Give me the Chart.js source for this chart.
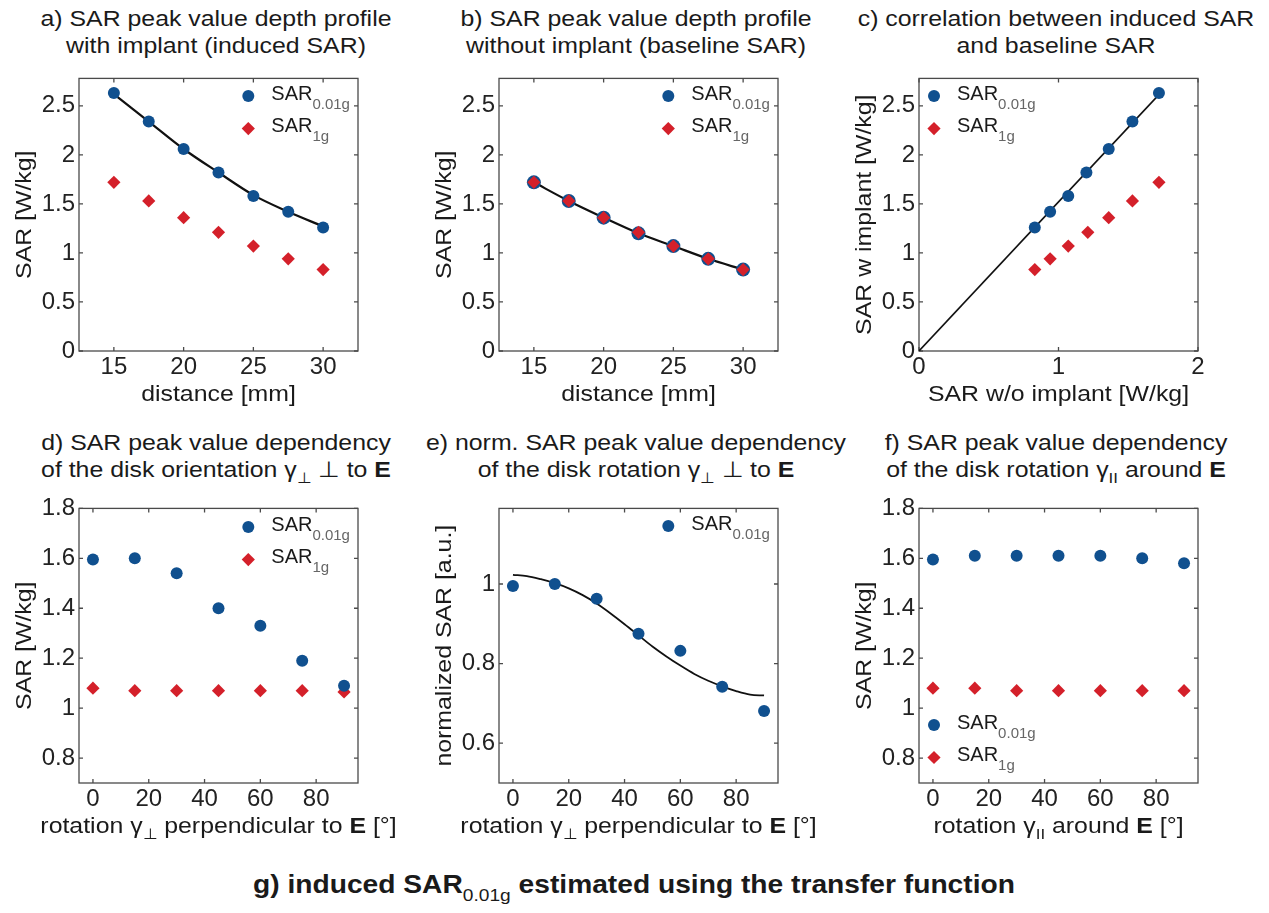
<!DOCTYPE html>
<html>
<head>
<meta charset="utf-8">
<script src="https://cdn.jsdelivr.net/npm/chart.js@4.4.1/dist/chart.umd.min.js"></script>
<style>
  body { margin: 0; background: #fff; width: 1269px; height: 913px; position: relative; overflow: hidden;
         font-family: "Liberation Sans", Arial, sans-serif; color: #1a1a1a; }
  canvas { position: absolute; }
  .title { position: absolute; width: 500px; text-align: center; font-size: 22px; line-height: 27px;
           white-space: nowrap; transform: scaleX(1.13); transform-origin: center; }
  .title .sub { font-size: 15px; position: relative; top: 6px; }
  #caption { position: absolute; left: 253px; top: 869px; font-weight: bold; font-size: 25px; line-height: 30px;
             white-space: nowrap; transform-origin: left center;
             font-family: "Liberation Sans Narrow", "Liberation Sans", Arial, sans-serif; }
  #caption .sub { font-size: 17px; position: relative; top: 8px; font-weight: normal; }
</style>
</head>
<body>

<div class="title" style="left:-34px;top:5px">a) SAR peak value depth profile<br>with implant (induced SAR)</div>
<div class="title" style="left:386px;top:5px">b) SAR peak value depth profile<br>without implant (baseline SAR)</div>
<div class="title" style="left:806px;top:5px">c) correlation between induced SAR<br>and baseline SAR</div>
<div class="title" style="left:-34px;top:429px">d) SAR peak value dependency<br>of the disk orientation &gamma;<span class="sub">&perp;</span> &perp; to <b>E</b></div>
<div class="title" style="left:386px;top:429px">e) norm. SAR peak value dependency<br>of the disk rotation &gamma;<span class="sub">&perp;</span> &perp; to <b>E</b></div>
<div class="title" style="left:806px;top:429px">f) SAR peak value dependency<br>of the disk rotation &gamma;<span class="sub">II</span> around <b>E</b></div>

<canvas id="chartA" width="420" height="360" style="left:0;top:60px"></canvas>
<canvas id="chartB" width="420" height="360" style="left:420px;top:60px"></canvas>
<canvas id="chartC" width="429" height="360" style="left:840px;top:60px"></canvas>
<canvas id="chartD" width="420" height="360" style="left:0;top:490px"></canvas>
<canvas id="chartE" width="420" height="360" style="left:420px;top:490px"></canvas>
<canvas id="chartF" width="429" height="360" style="left:840px;top:490px"></canvas>

<div id="caption">g) induced SAR<span class="sub">0.01g</span> estimated using the transfer function</div>

<script>
// depth profile (a, b, c)
const distance = [15, 17.5, 20, 22.5, 25, 27.5, 30];
const inducedSAR001 = [2.63, 2.34, 2.06, 1.82, 1.58, 1.42, 1.26];
const inducedSAR1g = [1.72, 1.53, 1.36, 1.21, 1.07, 0.94, 0.83];
const inducedFit = [2.62, 2.34, 2.06, 1.82, 1.59, 1.42, 1.27];
const baselineSAR001 = [1.72, 1.53, 1.36, 1.20, 1.07, 0.94, 0.83];
const baselineSAR1g = [1.72, 1.53, 1.36, 1.21, 1.07, 0.94, 0.83];
const baselineFit = [1.72, 1.53, 1.36, 1.20, 1.07, 0.94, 0.83];
const corrLineX = [0, 1.73];
const corrLineY = [0, 2.63];

// rotation (d, e, f)
const angle = [0, 15, 30, 45, 60, 75, 90];
const perpSAR001 = [1.595, 1.60, 1.54, 1.40, 1.33, 1.19, 1.09];
const perpSAR1g = [1.08, 1.07, 1.07, 1.07, 1.07, 1.07, 1.065];
const perpNorm001 = [0.995, 1.0, 0.963, 0.875, 0.832, 0.742, 0.681];
const fitAngle = [0, 5, 10, 15, 20, 25, 30, 35, 40, 45, 50, 55, 60, 65, 70, 75, 80, 85, 90];
const perpNormFit = [1.023, 1.02, 1.012, 1.002, 0.989, 0.972, 0.951, 0.926, 0.899, 0.871,
                     0.843, 0.818, 0.795, 0.774, 0.757, 0.743, 0.731, 0.722, 0.72];
const parSAR001 = [1.595, 1.61, 1.61, 1.61, 1.61, 1.60, 1.58];
const parSAR1g = [1.08, 1.08, 1.07, 1.07, 1.07, 1.07, 1.07];

// tick labels
const ticksDistance = [15, 20, 25, 30];
const ticksSAR = [0, 0.5, 1, 1.5, 2, 2.5];
const ticksBaseline = [0, 1, 2];
const ticksAngle = [0, 20, 40, 60, 80];
const ticksSARrot = [0.8, 1, 1.2, 1.4, 1.6, 1.8];
const ticksNorm = [0.6, 0.8, 1];

const BLUE = '#10508f';
const RED = '#d4202a';
const FONT = '"Liberation Sans", Arial, sans-serif';
const STRETCH = 1.13;
const R_CIRCLE = 6;
const R_DIAMOND = 6.6;

const pts = (xs, ys) => xs.map((x, i) => ({ x: x, y: ys[i] }));

function markers(label, xs, ys, color, style) {
  return {
    label: label, data: pts(xs, ys), showLine: false,
    pointStyle: style, pointRadius: style === 'circle' ? R_CIRCLE : R_DIAMOND,
    pointBackgroundColor: color, pointBorderColor: color, pointBorderWidth: 0
  };
}
function curve(xs, ys, width) {
  return {
    label: 'fit', data: pts(xs, ys), showLine: true, pointRadius: 0,
    borderColor: '#111', borderWidth: width, cubicInterpolationMode: 'monotone', fill: false
  };
}

function drawRich(ctx, parts, x, y, size, align) {
  ctx.save();
  ctx.translate(x, y);
  ctx.scale(STRETCH, 1);
  const fontOf = p => (p.bold ? 'bold ' : '') + (p.sub ? 15 : size) + 'px ' + FONT;
  let w = 0;
  parts.forEach(p => { ctx.font = fontOf(p); w += ctx.measureText(p.t).width; });
  let cx = align === 'center' ? -w / 2 : 0;
  ctx.textAlign = 'left';
  ctx.textBaseline = 'alphabetic';
  ctx.fillStyle = '#1a1a1a';
  parts.forEach(p => {
    ctx.font = fontOf(p);
    ctx.fillText(p.t, cx, p.sub ? 6 : 0);
    cx += ctx.measureText(p.t).width;
  });
  ctx.restore();
}

function legendEntry(ctx, x, y, color, style, sub) {
  ctx.fillStyle = color;
  ctx.beginPath();
  if (style === 'circle') ctx.arc(x, y, R_CIRCLE, 0, Math.PI * 2);
  else { ctx.moveTo(x - R_DIAMOND, y); ctx.lineTo(x, y - R_DIAMOND); ctx.lineTo(x + R_DIAMOND, y); ctx.lineTo(x, y + R_DIAMOND); ctx.closePath(); }
  ctx.fill();
  ctx.textAlign = 'left';
  ctx.textBaseline = 'alphabetic';
  ctx.fillStyle = '#1a1a1a';
  ctx.font = '20px ' + FONT;
  ctx.fillText('SAR', x + 23, y + 3.6);
  const w = ctx.measureText('SAR').width;
  ctx.fillStyle = '#666';
  ctx.font = '15px ' + FONT;
  ctx.fillText(sub, x + 23 + w, y + 12.6);
}

function makeChart(id, cfg) {
  const canvas = document.getElementById(id);
  const cLeft = parseFloat(canvas.style.left) || 0;
  const cTop = parseFloat(canvas.style.top);
  const [pl, pt, pr, pb] = cfg.plot;

  const frame = {
    id: 'frame-' + id,
    beforeDatasetsDraw(chart) {
      const { ctx, chartArea: a, scales } = chart;
      ctx.save();
      ctx.strokeStyle = '#4a4a4a';
      ctx.lineWidth = 1.3;
      ctx.strokeRect(a.left, a.top, a.width, a.height);
      ctx.beginPath();
      cfg.xTicks.forEach(v => {
        const px = scales.x.getPixelForValue(v);
        ctx.moveTo(px, a.bottom); ctx.lineTo(px, a.bottom - 4);
        ctx.moveTo(px, a.top); ctx.lineTo(px, a.top + 4);
      });
      cfg.yTicks.forEach(v => {
        const py = scales.y.getPixelForValue(v);
        ctx.moveTo(a.left, py); ctx.lineTo(a.left + 4, py);
        ctx.moveTo(a.right, py); ctx.lineTo(a.right - 4, py);
      });
      ctx.stroke();
      ctx.restore();
    },
    afterDraw(chart) {
      const { ctx, chartArea: a } = chart;
      ctx.save();
      // axis titles
      drawRich(ctx, cfg.xTitle, (a.left + a.right) / 2, a.bottom + 50, 22, 'center');
      ctx.save();
      ctx.translate(31, (a.top + a.bottom) / 2);
      ctx.rotate(-Math.PI / 2);
      drawRich(ctx, cfg.yTitle, 0, 0, 22, 'center');
      ctx.restore();
      // legend
      cfg.legend.forEach((e, i) => {
        const lx = cfg.legendAt.fromRight ? a.right - cfg.legendAt.dx : a.left + cfg.legendAt.dx;
        const ly = cfg.legendAt.fromBottom ? a.bottom - cfg.legendAt.dy + i * 32.5 : a.top + cfg.legendAt.dy + i * 32.5;
        legendEntry(ctx, lx, ly, e.color, e.style, e.sub);
      });
      ctx.restore();
    }
  };

  const tickFont = { family: FONT, size: 24 };
  return new Chart(canvas, {
    type: 'scatter',
    data: { datasets: cfg.datasets },
    options: {
      responsive: false,
      animation: false,
      devicePixelRatio: 1,
      layout: { padding: { left: 0, top: pt - cTop, right: canvas.width - (pr - cLeft), bottom: 0 } },
      plugins: { legend: { display: false }, tooltip: { enabled: false } },
      scales: {
        x: {
          type: 'linear', min: cfg.xRange[0], max: cfg.xRange[1],
          afterBuildTicks: s => { s.ticks = cfg.xTicks.map(v => ({ value: v })); },
          afterFit: s => { s.height = canvas.height - (pb - cTop); },
          grid: { display: false, drawTicks: false }, border: { display: false },
          ticks: { font: tickFont, color: '#222', padding: 2, maxRotation: 0, autoSkip: false, callback: v => String(v) }
        },
        y: {
          type: 'linear', min: cfg.yRange[0], max: cfg.yRange[1],
          afterBuildTicks: s => { s.ticks = cfg.yTicks.map(v => ({ value: v })); },
          afterFit: s => { s.width = pl - cLeft; },
          grid: { display: false, drawTicks: false }, border: { display: false },
          ticks: { font: tickFont, color: '#222', padding: 4, autoSkip: false, callback: v => String(v) }
        }
      }
    },
    plugins: [frame]
  });
}

const legendBoth = [
  { color: BLUE, style: 'circle', sub: '0.01g' },
  { color: RED, style: 'rectRot', sub: '1g' }
];
const titleSAR = [{ t: 'SAR [W/kg]' }];
const titleDistance = [{ t: 'distance [mm]' }];
const titlePerp = [{ t: 'rotation ' }, { t: 'γ' }, { t: '⊥', sub: true }, { t: ' perpendicular to ' }, { t: 'E', bold: true }, { t: ' [°]' }];
const titlePar = [{ t: 'rotation ' }, { t: 'γ' }, { t: 'II', sub: true }, { t: ' around ' }, { t: 'E', bold: true }, { t: ' [°]' }];

makeChart('chartA', {
  plot: [79, 73, 358, 351], xRange: [12.5, 32.5], yRange: [0, 2.78],
  xTicks: ticksDistance, yTicks: ticksSAR,
  xTitle: titleDistance, yTitle: titleSAR,
  legend: legendBoth, legendAt: { fromRight: true, dx: 109.7, dy: 17.7 },
  datasets: [
    markers('SAR 0.01g', distance, inducedSAR001, BLUE, 'circle'),
    markers('SAR 1g', distance, inducedSAR1g, RED, 'rectRot'),
    curve(distance, inducedFit, 2.2)
  ]
});

makeChart('chartB', {
  plot: [499, 73, 778, 351], xRange: [12.5, 32.5], yRange: [0, 2.78],
  xTicks: ticksDistance, yTicks: ticksSAR,
  xTitle: titleDistance, yTitle: titleSAR,
  legend: legendBoth, legendAt: { fromRight: true, dx: 109.7, dy: 17.7 },
  datasets: [
    markers('SAR 1g', distance, baselineSAR1g, RED, 'rectRot'),
    Object.assign(markers('SAR 0.01g', distance, baselineSAR001, BLUE, 'circle'), { pointRadius: 7 }),
    curve(distance, baselineFit, 2.2)
  ]
});

makeChart('chartC', {
  plot: [919, 73, 1198, 351], xRange: [0, 2], yRange: [0, 2.78],
  xTicks: ticksBaseline, yTicks: ticksSAR,
  xTitle: [{ t: 'SAR w/o implant [W/kg]' }], yTitle: [{ t: 'SAR w implant [W/kg]' }],
  legend: legendBoth, legendAt: { fromRight: false, dx: 15, dy: 17.7 },
  datasets: [
    markers('SAR 0.01g', baselineSAR001, inducedSAR001, BLUE, 'circle'),
    markers('SAR 1g', baselineSAR1g, inducedSAR1g, RED, 'rectRot'),
    curve(corrLineX, corrLineY, 1.6)
  ]
});

makeChart('chartD', {
  plot: [79, 504, 358, 783], xRange: [-5, 95], yRange: [0.7, 1.8],
  xTicks: ticksAngle, yTicks: ticksSARrot,
  xTitle: titlePerp, yTitle: titleSAR,
  legend: legendBoth, legendAt: { fromRight: true, dx: 109.7, dy: 18.7 },
  datasets: [
    markers('SAR 0.01g', angle, perpSAR001, BLUE, 'circle'),
    markers('SAR 1g', angle, perpSAR1g, RED, 'rectRot')
  ]
});

makeChart('chartE', {
  plot: [499, 505, 778, 783], xRange: [-5, 95], yRange: [0.5, 1.19],
  xTicks: ticksAngle, yTicks: ticksNorm,
  xTitle: titlePerp, yTitle: [{ t: 'normalized SAR [a.u.]' }],
  legend: [legendBoth[0]], legendAt: { fromRight: true, dx: 109.7, dy: 17.7 },
  datasets: [
    markers('SAR 0.01g', angle, perpNorm001, BLUE, 'circle'),
    curve(fitAngle, perpNormFit, 1.8)
  ]
});

makeChart('chartF', {
  plot: [919, 504, 1198, 783], xRange: [-5, 95], yRange: [0.7, 1.8],
  xTicks: ticksAngle, yTicks: ticksSARrot,
  xTitle: titlePar, yTitle: titleSAR,
  legend: legendBoth, legendAt: { fromRight: false, fromBottom: true, dx: 15, dy: 58 },
  datasets: [
    markers('SAR 0.01g', angle, parSAR001, BLUE, 'circle'),
    markers('SAR 1g', angle, parSAR1g, RED, 'rectRot')
  ]
});

// stretch the caption to the width it has in the figure
const caption = document.getElementById('caption');
caption.style.transform = 'scaleX(' + (762 / caption.offsetWidth) + ')';
</script>
</body>
</html>
